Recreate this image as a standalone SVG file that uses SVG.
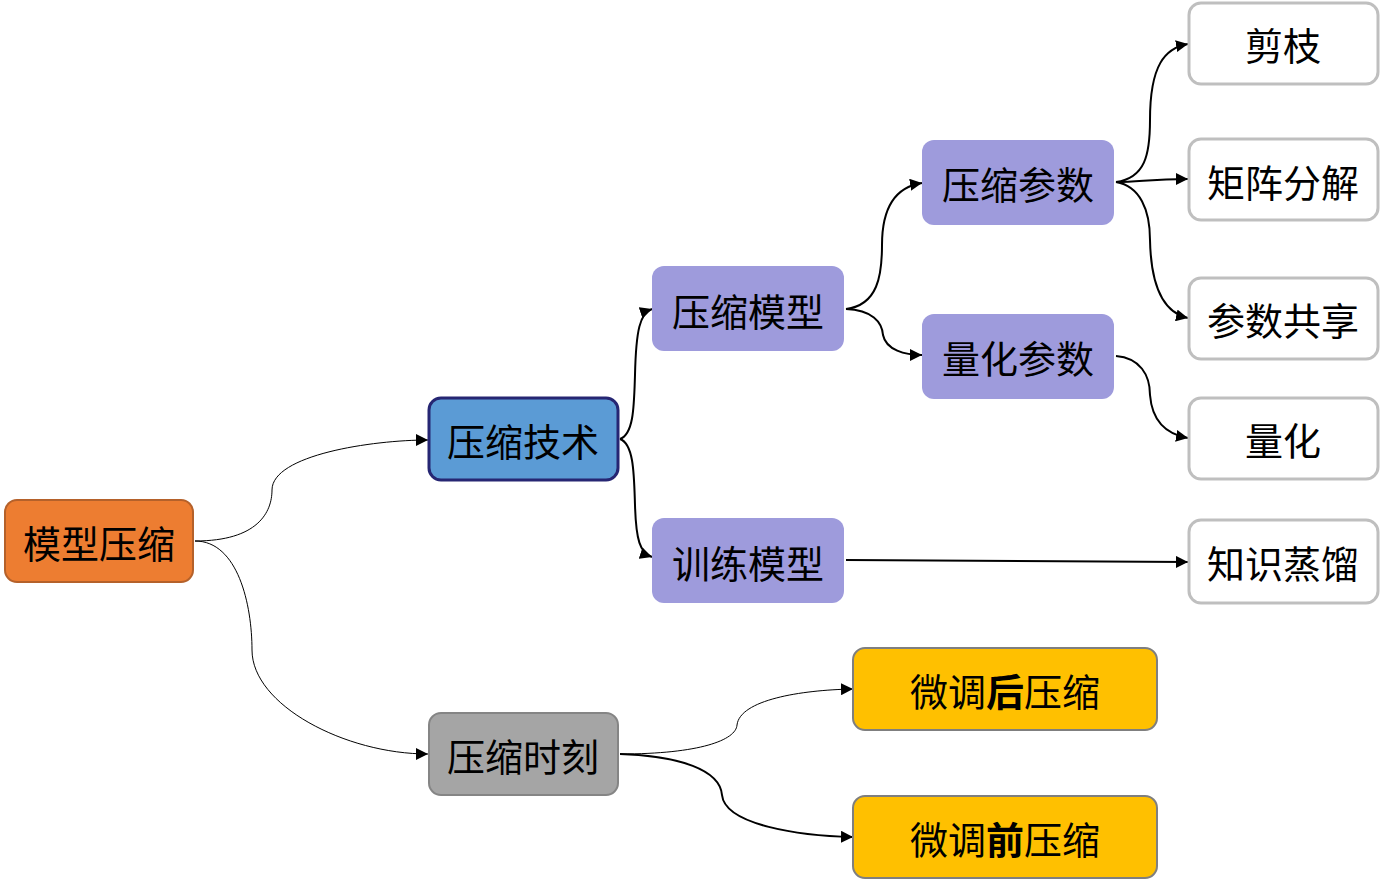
<svg xmlns="http://www.w3.org/2000/svg" width="1383" height="883" viewBox="0 0 1383 883">
<defs>
<marker id="ah" markerUnits="userSpaceOnUse" markerWidth="14" markerHeight="12" refX="12" refY="6" orient="auto">
<path d="M0,0 L12,6 L0,12 z" fill="#000"/>
</marker>
<style>
text{font-family:"Noto Sans CJK SC","Microsoft YaHei",sans-serif;font-size:38px;fill:#000;text-anchor:middle;dominant-baseline:central}
.c{fill:none;stroke:#000;marker-end:url(#ah)}
.thin{stroke-width:1}
.thick{stroke-width:2}
.purple{fill:#9E9BDC}
.leaf{fill:#fff;stroke:#BFBFBF;stroke-width:3}
.gold{fill:#FFC000;stroke:#7F7F7F;stroke-width:2}
</style>
</defs>
<rect width="1383" height="883" fill="#fff"/>
<g id="connectors">
<path class="c thin" d="M195,541 C258,541 272,512 272,490 C272,455 372,440 428,440"/>
<path class="c thin" d="M195,541 C238,541 252,605 252,650 C252,705 345,754 428,754"/>
<path class="c thick" d="M620,439 C634,434 634,405 635,375 C636,330 640,313 652,309"/>
<path class="c thick" d="M620,439 C634,444 634,475 635,505 C636,540 640,553 652,557"/>
<path class="c thick" d="M846,309 C878,305 882,275 882,245 C882,200 902,186 922,183"/>
<path class="c thick" d="M846,309 C872,310 882,322 883,335 C886,350 905,355 922,355"/>
<path class="c thick" d="M1116,182 C1145,178 1150,155 1150,120 C1150,65 1165,48 1188,44"/>
<path class="c thick" d="M1116,182 C1140,182 1150,179 1188,179"/>
<path class="c thick" d="M1116,182 C1140,186 1150,210 1150,240 C1151,290 1165,313 1188,318"/>
<path class="c thick" d="M1116,356 C1140,358 1150,375 1150,395 C1152,420 1165,434 1188,438"/>
<path class="c thick" d="M846,560 L1188,562"/>
<path class="c thin" d="M620,754 C700,754 736,740 737,725 C740,700 800,690 853,689"/>
<path class="c thick" d="M620,754 C680,756 720,770 722,795 C725,825 800,836 853,837"/>
</g>
<g id="n-root"><rect x="5" y="500" width="188" height="82" rx="12" fill="#ED7D31" stroke="#B5612A" stroke-width="2"/><text x="99" y="541">模型压缩</text></g>
<g id="n-tech"><rect x="429" y="398" width="189" height="82" rx="12" fill="#5B9BD5" stroke="#262673" stroke-width="3"/><text x="523" y="439">压缩技术</text></g>
<g id="n-time"><rect x="429" y="713" width="189" height="82" rx="12" fill="#A5A5A5" stroke="#858585" stroke-width="2"/><text x="523" y="754">压缩时刻</text></g>
<g id="n-cmodel"><rect class="purple" x="652" y="266" width="192" height="85" rx="12"/><text x="748" y="309">压缩模型</text></g>
<g id="n-tmodel"><rect class="purple" x="652" y="518" width="192" height="85" rx="12"/><text x="748" y="561">训练模型</text></g>
<g id="n-cparam"><rect class="purple" x="922" y="140" width="192" height="85" rx="12"/><text x="1018" y="182">压缩参数</text></g>
<g id="n-qparam"><rect class="purple" x="922" y="314" width="192" height="85" rx="12"/><text x="1018" y="356">量化参数</text></g>
<g id="n-prune"><rect class="leaf" x="1189" y="3" width="189" height="81" rx="12"/><text x="1283" y="43">剪枝</text></g>
<g id="n-matrix"><rect class="leaf" x="1189" y="139" width="189" height="81" rx="12"/><text x="1283" y="180">矩阵分解</text></g>
<g id="n-share"><rect class="leaf" x="1189" y="278" width="189" height="81" rx="12"/><text x="1283" y="318">参数共享</text></g>
<g id="n-quant"><rect class="leaf" x="1189" y="398" width="189" height="81" rx="12"/><text x="1283" y="438">量化</text></g>
<g id="n-distill"><rect class="leaf" x="1189" y="520" width="189" height="83" rx="12"/><text x="1283" y="561">知识蒸馏</text></g>
<g id="n-after"><rect class="gold" x="853" y="648" width="304" height="82" rx="12"/><text x="1005" y="689">微调<tspan font-weight="bold">后</tspan>压缩</text></g>
<g id="n-before"><rect class="gold" x="853" y="796" width="304" height="82" rx="12"/><text x="1005" y="837">微调<tspan font-weight="bold">前</tspan>压缩</text></g>
</svg>
